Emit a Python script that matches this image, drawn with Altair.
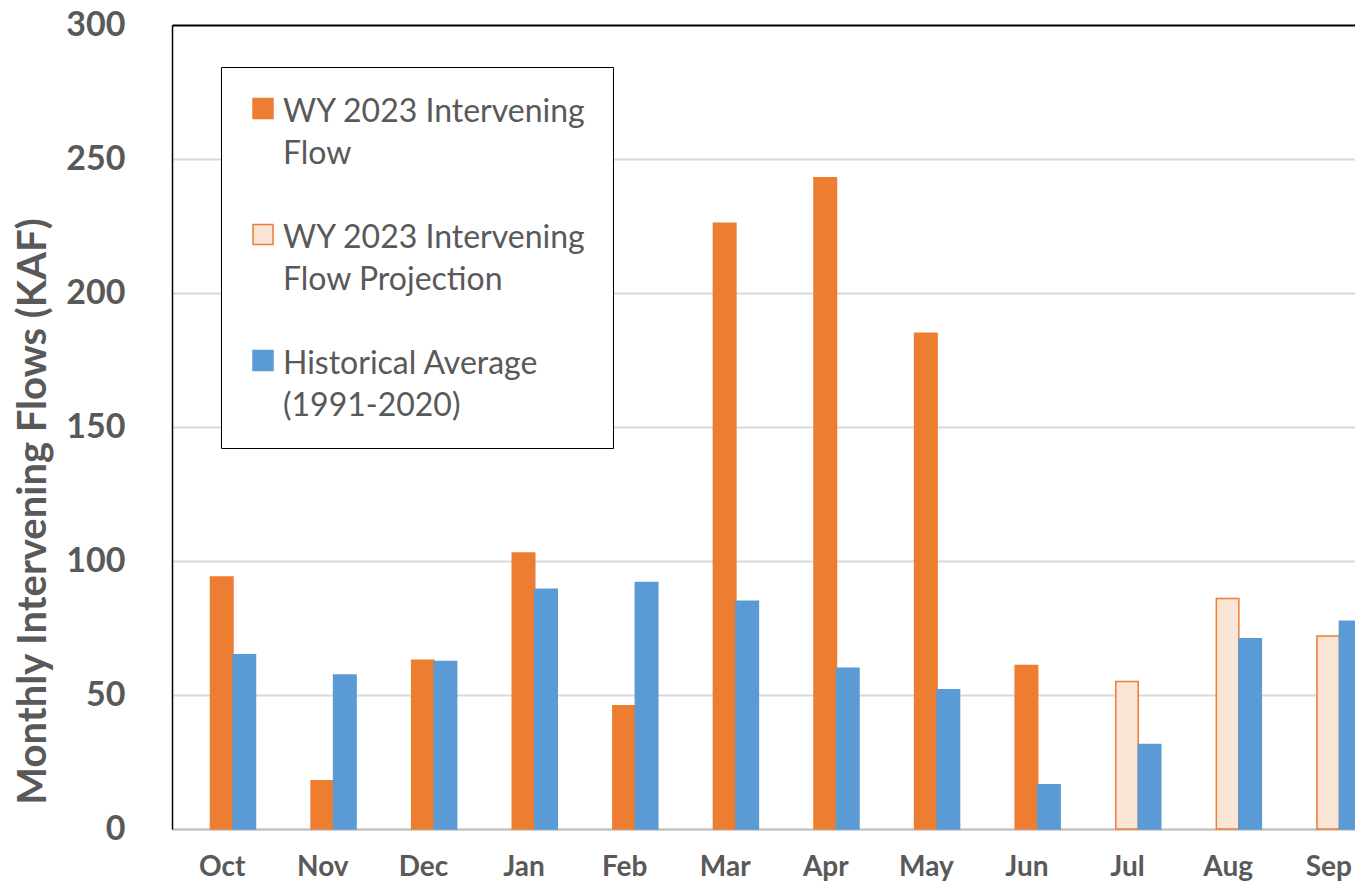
import altair as alt
import pandas as pd

months = ["Oct", "Nov", "Dec", "Jan", "Feb", "Mar", "Apr", "May", "Jun", "Jul", "Aug", "Sep"]
actual_months = ["Oct", "Nov", "Dec", "Jan", "Feb", "Mar", "Apr", "May", "Jun"]
actual_flow = [94, 18, 63, 103, 46, 226, 243, 185, 61]
proj_months = ["Jul", "Aug", "Sep"]
proj_flow = [55, 86, 72]
hist_avg = [65, 57.5, 62.5, 89.5, 92, 85, 60, 52, 16.5, 31.5, 71, 77.5]

S1 = "WY 2023 Intervening Flow"
S2 = "WY 2023 Intervening Flow Projection"
S3 = "Historical Average (1991-2020)"
series = [S1, S2, S3]

rows = []
for m, v in zip(actual_months, actual_flow):
    rows.append({"month": m, "value": v, "series": S1, "slot": "a"})
for m, v in zip(proj_months, proj_flow):
    rows.append({"month": m, "value": v, "series": S2, "slot": "a"})
for m, v in zip(months, hist_avg):
    rows.append({"month": m, "value": v, "series": S3, "slot": "b"})
df = pd.DataFrame(rows)

FONT = "Lato"
GREY = "#595959"
ORANGE = "#ED7D31"
LIGHT = "#FBE5D6"
BLUE = "#5B9BD5"

label_expr = (
    "datum.label == '" + S1 + "' ? ['WY 2023 Intervening', 'Flow'] : "
    "datum.label == '" + S2 + "' ? ['WY 2023 Intervening', 'Flow Projection'] : "
    "['Historical Average', '(1991-2020)']"
)

# small square drawn up-left inside a large symbol cell, so it sits beside
# the first line of each two-line label
SQUARE = "M-0.81,-0.83L-0.09,-0.83L-0.09,-0.11L-0.81,-0.11Z"

legend_kw = dict(
    orient="none", legendX=49, legendY=42,
    strokeColor="black", fillColor="white", padding=26,
    symbolType=SQUARE, symbolSize=3080, symbolStrokeWidth=1.5,
    labelFont=FONT, labelFontSize=32, labelColor=GREY, labelLimit=600,
    labelOffset={"expr": "-21"}, rowPadding=49, labelExpr=label_expr,
    labelBaseline="alphabetic",
)

chart = alt.Chart(df).mark_bar(strokeWidth=1.5).encode(
    x=alt.X(
        "month:N", sort=months,
        scale=alt.Scale(domain=months, range=[0, 1207], paddingInner=0, paddingOuter=0),
        axis=alt.Axis(
            title=None, labelAngle=0, labelFont=FONT, labelFontSize=28,
            labelFontWeight="bold", labelColor=GREY, labelPadding=24,
            labelBaseline="top", ticks=False, grid=False,
            domainColor="#BFBFBF", domainWidth=2,
        ),
    ),
    xOffset=alt.XOffset(
        "slot:N",
        scale=alt.Scale(domain=["a", "b"], range=[38.5, 83.5], paddingInner=0, paddingOuter=0),
    ),
    y=alt.Y(
        "value:Q",
        scale=alt.Scale(domain=[0, 300], nice=False),
        axis=alt.Axis(
            values=[0, 50, 100, 150, 200, 250, 300],
            title="Monthly Intervening Flows (KAF)",
            titleFont=FONT, titleFontSize=40, titleFontWeight="bold", titleColor=GREY,
            titleX=-139, titleY=486, titleAlign="center", titleBaseline="middle", titleAngle=270,
            labelFont=FONT, labelFontSize=34, labelFontWeight="bold", labelColor=GREY,
            labelPadding=47, ticks=False,
            domainColor="black", domainWidth=1.5,
            gridColor=alt.condition("datum.value == 300", alt.value("black"), alt.value("#D9D9D9")),
            gridWidth=2,
        ),
    ),
    fill=alt.Fill("series:N", title=None,
                  scale=alt.Scale(domain=series, range=[ORANGE, LIGHT, BLUE]),
                  legend=alt.Legend(**legend_kw)),
    stroke=alt.Stroke("series:N", title=None,
                      scale=alt.Scale(domain=series, range=[ORANGE, ORANGE, BLUE]),
                      legend=alt.Legend(**legend_kw)),
).properties(
    width=1183, height=804,
    padding={"left": 164, "top": 17, "right": 0, "bottom": 55},
    autosize=alt.AutoSizeParams(type="none"),
).configure(
    style={"guide-label": {"lineHeight": 42}},
).configure_view(strokeWidth=0)

chart.save("out.html", embed_options={"renderer": "svg", "actions": False})
